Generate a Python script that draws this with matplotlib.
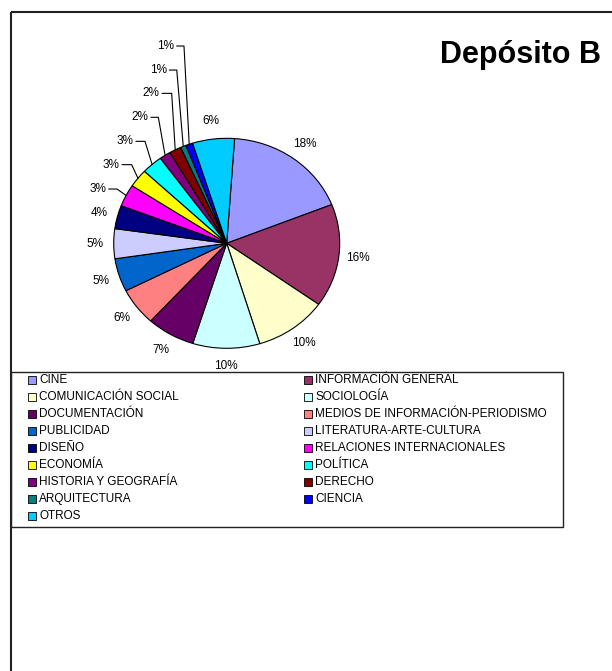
import numpy as np
import matplotlib
matplotlib.use('Agg')
import matplotlib.pyplot as plt
from matplotlib.patches import Rectangle

plt.rcParams['font.family'] = ['Liberation Sans', 'DejaVu Sans']

# data (share of documents, Depósito B)
categories = ['CINE', 'INFORMACIÓN GENERAL', 'COMUNICACIÓN SOCIAL', 'SOCIOLOGÍA',
              'DOCUMENTACIÓN', 'MEDIOS DE INFORMACIÓN-PERIODISMO', 'PUBLICIDAD',
              'LITERATURA-ARTE-CULTURA', 'DISEÑO', 'RELACIONES INTERNACIONALES',
              'ECONOMÍA', 'POLÍTICA', 'HISTORIA Y GEOGRAFÍA', 'DERECHO',
              'ARQUITECTURA', 'CIENCIA', 'OTROS']
values = [17.9, 15.9, 10.4, 9.6, 6.9, 5.8, 5.1, 4.6, 3.6, 3.4,
          2.8, 3.0, 1.6, 1.7, 0.8, 1.0, 6.0]
colors = ['#9999FF', '#993366', '#FFFFCC', '#CCFFFF', '#660066', '#FF8080',
          '#0066CC', '#CCCCFF', '#000080', '#FF00FF', '#FFFF00', '#00FFFF',
          '#800080', '#800000', '#008080', '#0000FF', '#00CCFF']
title = 'Depósito B'

W, H = 612, 671
cx, cy, rx, ry = 226.7, 243.3, 113, 105   # pie centre / radii in pixels

fig = plt.figure(figsize=(W / 100, H / 100), dpi=100)

# pie axes: whole figure, 1 data unit = rx px horizontally, ry px vertically
ax = fig.add_axes([0, 0, 1, 1])
wedges, _ = ax.pie(values, colors=colors, startangle=86, counterclock=False,
                   wedgeprops=dict(edgecolor='black', linewidth=0.8))
ax.set_aspect('auto')
ax.set_xlim(-cx / rx, (W - cx) / rx)
ax.set_ylim((cy - H) / ry, cy / ry)
ax.axis('off')

total = sum(values)
# labels with leader lines for the small slices: (text right x, text y, stub end x)
leader_pos = {9: (-1.068, 0.517, -0.971),
              10: (-0.950, 0.749, -0.841),
              11: (-0.827, 0.971, -0.723),
              12: (-0.694, 1.200, -0.605),
              13: (-0.596, 1.428, -0.487),
              14: (-0.531, 1.650, -0.442),
              15: (-0.466, 1.879, -0.378)}
for i, w in enumerate(wedges):
    ang = np.deg2rad((w.theta1 + w.theta2) / 2)
    txt = f'{values[i] / total * 100:.0f}%'
    if i in leader_pos:
        tx, ty, sx = leader_pos[i]
        ax.text(tx, ty, txt, ha='right', va='center', fontsize=8.5)
        ax.plot([tx + 0.025, sx, np.cos(ang)], [ty, ty, np.sin(ang)],
                color='black', lw=0.8)
    else:
        r = 1.17
        ax.text(r * np.cos(ang), r * np.sin(ang), txt, ha='center', va='center',
                fontsize=8.5)

# overlay in pixel coordinates for frame, title and legend
ov = fig.add_axes([0, 0, 1, 1], zorder=-1)
ov.set_xlim(0, W)
ov.set_ylim(H, 0)
ov.axis('off')
ov.add_patch(Rectangle((11, 12), W + 20, H + 20, fill=False, edgecolor='#222222', lw=1.5))

fig.text(520 / W, 1 - 55 / H, title, ha='center', va='center',
         fontsize=22, fontweight='bold')

# legend, filled row by row in two columns
ov.add_patch(Rectangle((11, 372), 552, 155, fill=False, edgecolor='#222222', lw=1.0))
col_x = [28, 304]
row_y0, row_dy, sq = 380, 17, 8
for i, (lab, c) in enumerate(zip(categories, colors)):
    x = col_x[i % 2]
    y = row_y0 + (i // 2) * row_dy
    ov.add_patch(Rectangle((x, y - sq / 2), sq, sq, facecolor=c,
                           edgecolor='black', lw=0.6))
    ov.text(x + sq + 3, y, lab, ha='left', va='center', fontsize=8.5)

fig.savefig('out.png', dpi=100)
